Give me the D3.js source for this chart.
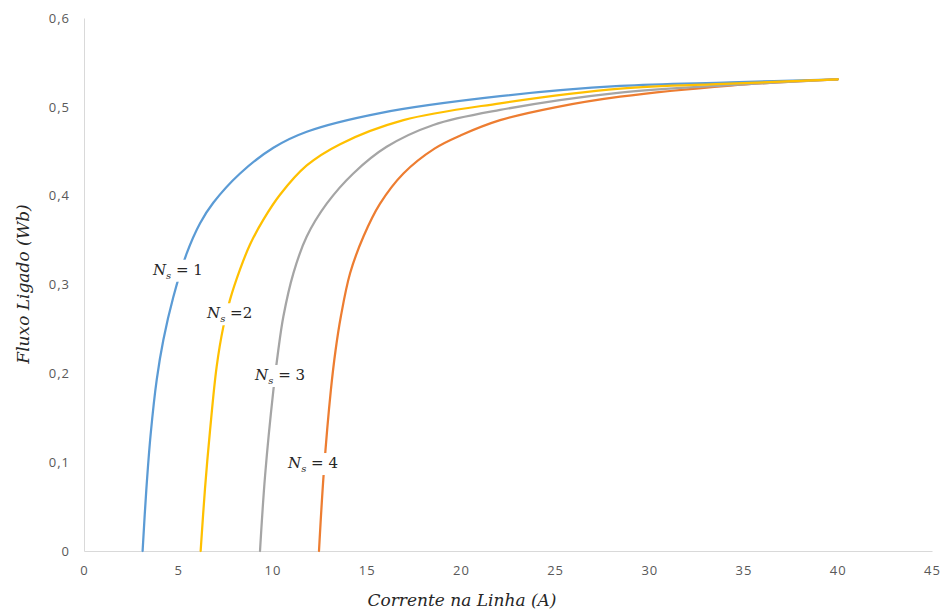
<!DOCTYPE html>
<html>
<head>
<meta charset="utf-8">
<script src="https://cdn.jsdelivr.net/npm/d3@7"></script>
<style>
  html, body { margin: 0; padding: 0; background: #ffffff; }
  svg { display: block; }
</style>
</head>
<body>
<svg id="chart" width="943" height="612"></svg>
<script>
// ---- Data ----
const xTicks = [0, 5, 10, 15, 20, 25, 30, 35, 40, 45];
const yTicks = [0, 0.1, 0.2, 0.3, 0.4, 0.5, 0.6];

const seriesNames = ["Ns1", "Ns4", "Ns3", "Ns2"]; // drawing order

const currentNs1 = [3.11, 3.31, 3.54, 3.86, 4.21, 4.74, 5.45, 6.16, 6.86, 8.28, 10.05, 11.82, 15.71, 22.08, 28.45, 34.3, 40];
const fluxNs1    = [0, 0.07, 0.132, 0.193, 0.2375, 0.286, 0.335, 0.369, 0.392, 0.425, 0.454, 0.472, 0.493, 0.512, 0.5235, 0.5275, 0.531];

const currentNs2 = [6.19, 6.42, 6.69, 7.04, 7.39, 7.75, 8.28, 8.81, 9.52, 10.4, 11.82, 13.59, 16.95, 22.08, 28.45, 34.3, 40];
const fluxNs2    = [0, 0.07, 0.136, 0.2075, 0.252, 0.283, 0.317, 0.345, 0.373, 0.401, 0.434, 0.458, 0.485, 0.504, 0.5205, 0.526, 0.531];

const currentNs3 = [9.34, 9.61, 10.05, 10.31, 10.58, 11.11, 11.82, 12.88, 14.29, 16.06, 18.54, 22.08, 28.45, 34.3, 40];
const fluxNs3    = [0, 0.085, 0.181, 0.226, 0.264, 0.3126, 0.354, 0.391, 0.425, 0.455, 0.4796, 0.4965, 0.516, 0.5245, 0.531];

const currentNs4 = [12.47, 12.73, 13.1, 13.35, 13.63, 14.12, 14.83, 15.71, 16.95, 18.6, 20.0, 22.08, 25, 28.45, 34.3, 40];
const fluxNs4    = [0, 0.09, 0.181, 0.226, 0.264, 0.3126, 0.354, 0.391, 0.425, 0.453, 0.468, 0.485, 0.4995, 0.5115, 0.524, 0.531];

const labelNs  = ["1", "2", "3", "4"];
const labelEq  = [" = ", " =", " = ", " = "];
const labelX   = [3.66, 6.53, 9.08, 10.83];
const labelY   = [0.311, 0.262, 0.1925, 0.0934];

const xTitle = "Corrente na Linha (A)";
const yTitle = "Fluxo Ligado (Wb)";

// ---- Layout ----
const svg = d3.select("#chart");
const plotLeft = 84, plotRight = 932, plotTop = 18, plotBottom = 551;

const x = d3.scaleLinear().domain([0, 45]).range([plotLeft, plotRight]);
const y = d3.scaleLinear().domain([0, 0.6]).range([plotBottom, plotTop]);

const fmt = d => d === 0 ? "0" : d3.format(".1f")(d).replace(".", ",");

// Axes
const xAxis = svg.append("g").attr("transform", `translate(0,${plotBottom})`)
  .call(d3.axisBottom(x).tickValues(xTicks).tickSize(0).tickPadding(15).tickFormat(d3.format("d")));
const yAxis = svg.append("g").attr("transform", `translate(${plotLeft},0)`)
  .call(d3.axisLeft(y).tickValues(yTicks).tickSize(0).tickPadding(14).tickFormat(fmt));

[xAxis, yAxis].forEach(g => {
  g.select(".domain").attr("stroke", "#d9d9d9").attr("stroke-width", 1);
  g.selectAll("text")
    .attr("fill", "#595959")
    .style("font-family", "'Open Sans', 'DejaVu Sans', sans-serif")
    .style("font-size", "13px")
    .style("letter-spacing", "1px");
});

// Lines
const colors = { Ns1: "#5B9BD5", Ns2: "#FFC000", Ns3: "#A5A5A5", Ns4: "#ED7D31" };
const dataMap = {
  Ns1: d3.zip(currentNs1, fluxNs1),
  Ns2: d3.zip(currentNs2, fluxNs2),
  Ns3: d3.zip(currentNs3, fluxNs3),
  Ns4: d3.zip(currentNs4, fluxNs4)
};
const line = d3.line().x(d => x(d[0])).y(d => y(d[1])).curve(d3.curveCatmullRom.alpha(0.5));

svg.append("g").selectAll("path")
  .data(seriesNames)
  .join("path")
  .attr("d", k => line(dataMap[k]))
  .attr("fill", "none")
  .attr("stroke", k => colors[k])
  .attr("stroke-width", 2.25)
  .attr("stroke-linecap", "round");

// In-chart labels with white backgrounds
const labG = svg.append("g");
labelNs.forEach((n, i) => {
  const g = labG.append("g");
  const rect = g.append("rect").attr("fill", "#ffffff");
  const t = g.append("text")
    .attr("x", x(labelX[i])).attr("y", y(labelY[i]))
    .attr("fill", "#262626")
    .style("font-family", "'DejaVu Serif', serif")
    .style("font-size", "15px");
  t.append("tspan").style("font-style", "italic").text("N");
  t.append("tspan").style("font-style", "italic").style("font-size", "10px").attr("dy", 4).text("s");
  t.append("tspan").attr("dy", -4).text(labelEq[i] + n);
  const bb = t.node().getBBox();
  rect.attr("x", bb.x - 2).attr("y", bb.y - 1).attr("width", bb.width + 4).attr("height", bb.height + 2);
});

// Axis titles
svg.append("text")
  .attr("x", 462).attr("y", 606)
  .attr("text-anchor", "middle")
  .attr("fill", "#262626")
  .style("font-family", "'DejaVu Serif', serif")
  .style("font-style", "italic")
  .style("font-size", "17px")
  .text(xTitle);

svg.append("text")
  .attr("transform", "translate(29,284) rotate(-90)")
  .attr("text-anchor", "middle")
  .attr("fill", "#262626")
  .style("font-family", "'DejaVu Serif', serif")
  .style("font-style", "italic")
  .style("font-size", "17px")
  .text(yTitle);
</script>
</body>
</html>
